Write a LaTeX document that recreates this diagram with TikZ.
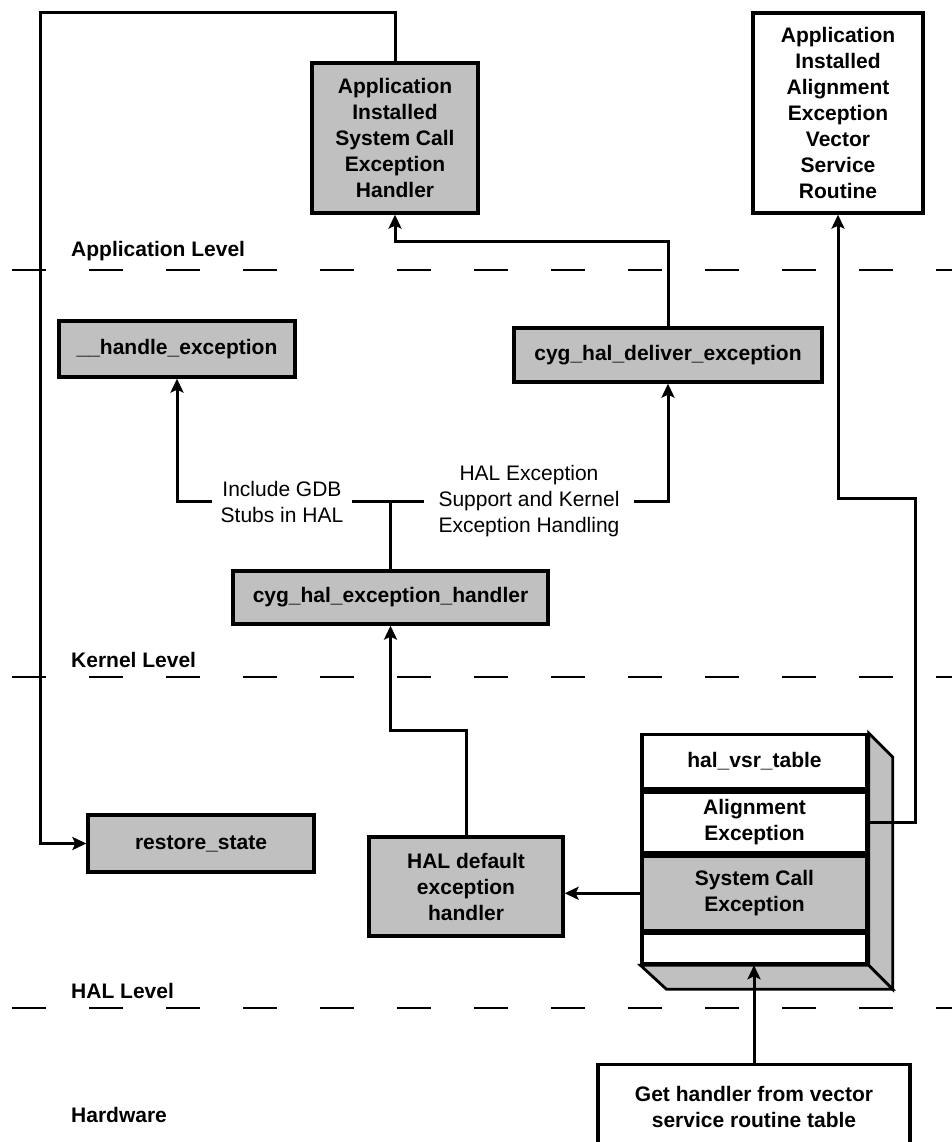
\documentclass[tikz,border=0pt]{standalone}
\usepackage{fontspec}
\setmainfont{Liberation Sans}
\usetikzlibrary{shapes, arrows.meta, positioning, calc}
\definecolor{boxgray}{RGB}{192,192,192}
\newcommand{\boxtext}{\fontsize{21}{26}\selectfont\bfseries}
\newcommand{\notetext}{\fontsize{21}{26}\selectfont}
\tikzstyle{routine}  = [rectangle, draw, line width=3.3pt, fill=boxgray, align=center, inner sep=0pt, font=\boxtext]
\tikzstyle{userbox}  = [rectangle, draw, line width=3.3pt, fill=white, align=center, inner sep=0pt, font=\boxtext]
\tikzstyle{vsrrow}   = [rectangle, draw, line width=3.3pt, fill=white, minimum width=225pt, inner sep=0pt, anchor=north, align=center, font=\boxtext]
\tikzstyle{note}     = [align=center, inner ysep=0pt, font=\notetext]
\tikzstyle{level}    = [anchor=west, inner sep=0pt, font=\boxtext]
\tikzstyle{wire}     = [draw, line width=3pt, line join=miter]
\tikzstyle{flow}     = [wire, -{Stealth[length=14pt, width=13pt, inset=3pt]}]
\tikzstyle{boundary} = [draw, line width=1.6pt, dash pattern=on 34pt off 43pt]

\begin{document}
\begin{tikzpicture}[x=1pt, y=-1pt]
    \useasboundingbox (0,0) rectangle (952,1142);
    \clip (0,0) rectangle (952,1142);

    % level boundaries
    \path[boundary] (12,270) -- (952,270);
    \path[boundary] (12,677) -- (952,677);
    \path[boundary] (12,1008) -- (952,1008);
    \node[level] (applevel) at (71,251) {Application Level};
    \node[level] (kernlevel) at (71,660) {Kernel Level};
    \node[level] (hallevel) at (71,991) {HAL Level};
    \node[level] (hwlevel) at (71,1115) {Hardware};

    % application level
    \node[routine, minimum width=166pt, minimum height=150pt] (appsys) at (395,138)
        {Application\\Installed\\System Call\\Exception\\Handler};
    \node[userbox, minimum width=170pt, minimum height=200pt] (appalign) at (838,113)
        {Application\\Installed\\Alignment\\Exception\\Vector\\Service\\Routine};

    % kernel level
    \node[routine, minimum width=236pt, minimum height=56pt] (handleexc) at (177,349) {\_\_handle\_exception};
    \node[routine, minimum width=308pt, minimum height=54pt] (deliver) at (668,355) {cyg\_hal\_deliver\_exception};
    \node[routine, minimum width=315pt, minimum height=53pt] (exchandler) at (390.5,597.5) {cyg\_hal\_exception\_handler};
    \node[note, inner xsep=8.5pt] (gdbnote) at (282,501.5) {Include GDB\\Stubs in HAL};
    \node[note, inner xsep=14pt] (halnote) at (529,501.5) {HAL Exception\\Support and Kernel\\Exception Handling};

    % HAL level
    \node[routine, minimum width=226pt, minimum height=57pt] (restore) at (201,843.5) {restore\_state};
    \node[routine, minimum width=194pt, minimum height=99pt] (haldefault) at (466,886.5) {HAL default\\exception\\handler};
    \node[vsrrow, minimum height=54pt] (vsrtab) at (754.5,733) {hal\_vsr\_table};
    \node[vsrrow, minimum height=61pt, below=0pt of vsrtab] (valign) {Alignment\\Exception};
    \node[vsrrow, minimum height=74pt, fill=boxgray, below=0pt of valign] (vsyscall) {System Call\\Exception};
    \node[vsrrow, minimum height=30pt, below=0pt of vsyscall] (vempty) {};
    \path[draw, line width=2.8pt, fill=boxgray, line join=miter]
        (vsrtab.north east) -- ++(24,24) -- ($(vempty.south east)+(24,24)$) -- (vempty.south east) -- cycle;
    \path[draw, line width=2.8pt, fill=boxgray, line join=miter]
        (vempty.south west) -- ++(26,24) -- ($(vempty.south east)+(24,24)$) -- (vempty.south east) -- cycle;

    % hardware
    \node[userbox, minimum width=312pt, minimum height=84pt, anchor=north] (gethandler) at (754,1063)
        {Get handler from vector\\service routine table};

    % connectors
    \coordinate (loopcorner) at (40,13);
    \coordinate (aligncorner) at (915,498);
    \path[flow] (appsys.north) |- (loopcorner) |- (restore.west);
    \path[flow] (deliver.north) -- ++(0,-85) -| (appsys.south);
    \path[wire] (gdbnote.east) -- (halnote.west);
    \path[wire] (exchandler.north) -- (exchandler.north |- halnote.west);
    \path[flow] (gdbnote.west) -| (handleexc.south);
    \path[flow] (halnote.east) -| (deliver.south);
    \path[flow] (haldefault.north) -- ++(0,-105) -| (exchandler.south);
    \path[flow] (vsyscall.west) -- (vsyscall.west -| haldefault.east);
    \path[flow] (valign.east) -| (aligncorner) -| (appalign.south);
    \path[flow] (gethandler.north) -- (gethandler.north |- vempty.south);
\end{tikzpicture}
\end{document}
